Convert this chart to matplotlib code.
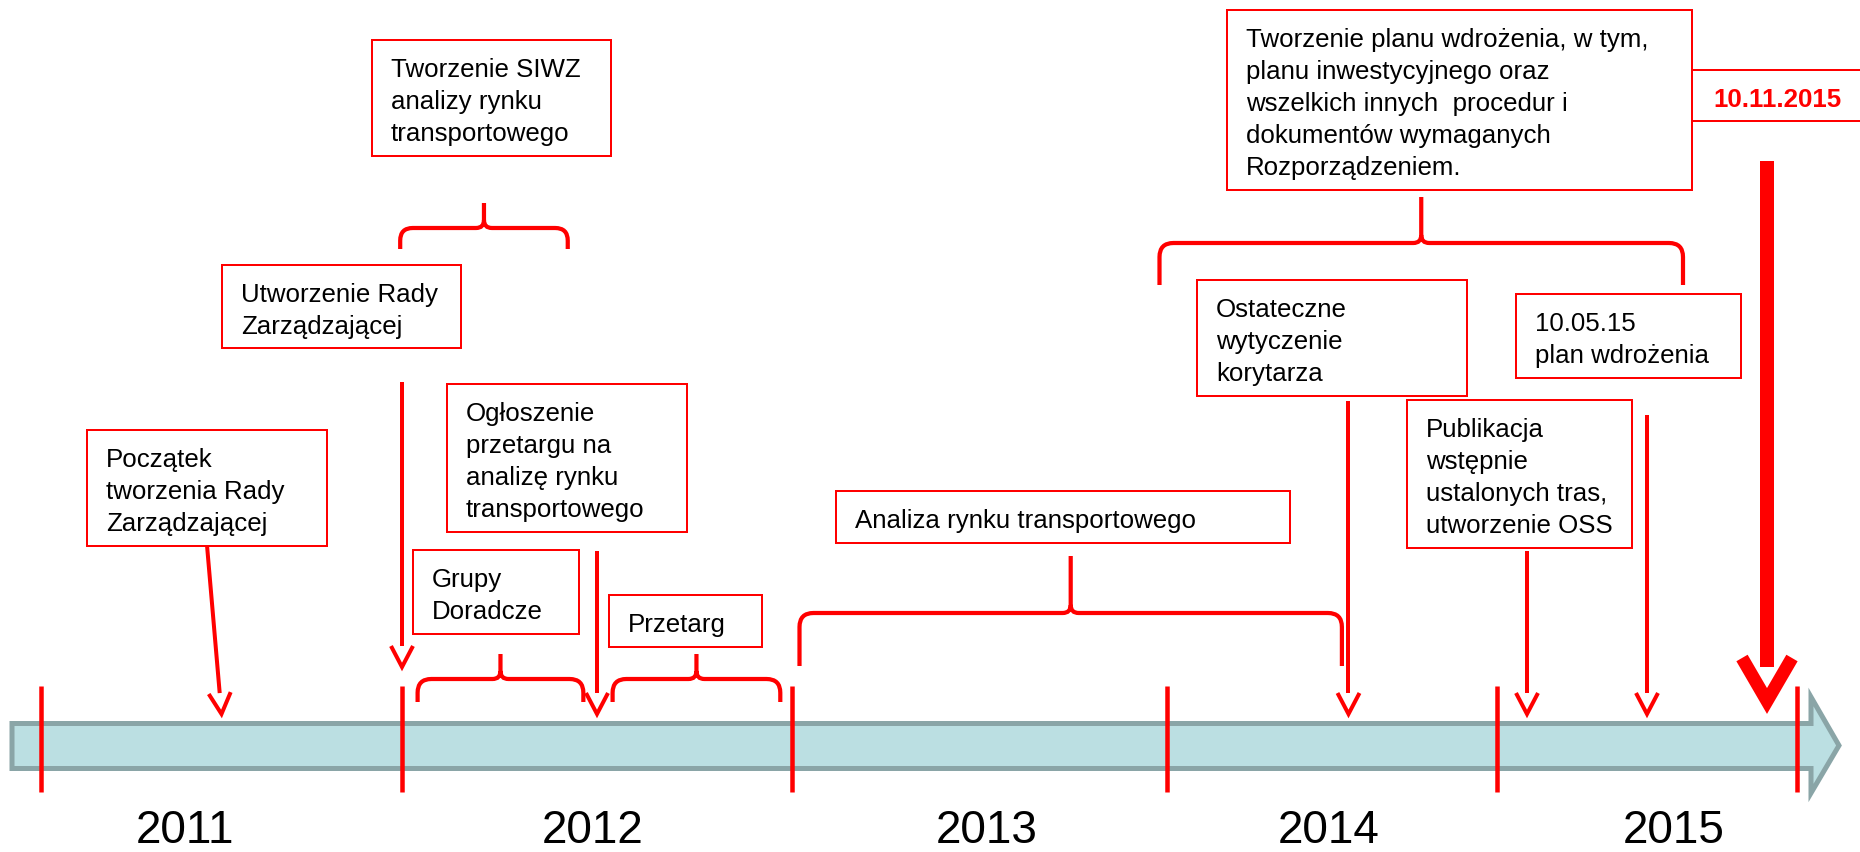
import numpy as np
import matplotlib
matplotlib.use("Agg")
import matplotlib.pyplot as plt
from matplotlib.path import Path
from matplotlib.patches import PathPatch, Polygon, Rectangle

plt.rcParams["font.family"] = ["Liberation Sans", "DejaVu Sans"]

W, H = 1860, 853
RED = "#FF0000"
PX = 0.72  # points per pixel at dpi=100

# ======================================================
# DATA
# ======================================================
# timeline scale: year boundaries -> pixel position of the red ticks
year_edges = [2011, 2012, 2013, 2014, 2015, 2016]
edge_px = [41, 402, 792, 1167, 1497, 1797]

year_labels = ["2011", "2012", "2013", "2014", "2015"]
year_label_pos = [2011.40, 2012.49, 2013.52, 2014.49, 2015.59]

# milestone arrows: (start date, tip date, start y)
arrow_from = [2011.46, 2012.0, 2012.5, 2014.55, 2015.10, 2015.50]
arrow_to = [2011.50, 2012.0, 2012.5, 2014.55, 2015.10, 2015.50]
arrow_top = [547, 383, 552, 402, 552, 416]
arrow_tip = [715, 668, 715, 715, 715, 715]

# braces: (start date, end date)
brace_start = [2011.995, 2012.04, 2012.54, 2013.02, 2013.98]
brace_end = [2012.425, 2012.465, 2012.97, 2014.53, 2015.62]
brace_levels = [(250, 229, 204), (703, 680, 655), (703, 680, 655),
                (667, 614, 557), (286, 244, 198)]

# text boxes
box_lines = [
    ["Początek", "tworzenia Rady", "Zarządzającej"],
    ["Utworzenie Rady", "Zarządzającej"],
    ["Tworzenie SIWZ", "analizy rynku", "transportowego"],
    ["Ogłoszenie", "przetargu na", "analizę rynku", "transportowego"],
    ["Grupy", "Doradcze"],
    ["Przetarg"],
    ["Analiza rynku transportowego"],
    ["Publikacja", "wstępnie", "ustalonych tras,", "utworzenie OSS"],
    ["Ostateczne", "wytyczenie", "korytarza"],
    ["10.05.15", "plan wdrożenia"],
    ["Tworzenie planu wdrożenia, w tym,", "planu inwestycyjnego oraz",
     "wszelkich innych  procedur i", "dokumentów wymaganych",
     "Rozporządzeniem."],
]
box_rects = [
    (87, 431, 327, 547),
    (222, 266, 461, 349),
    (372, 41, 611, 157),
    (447, 385, 687, 533),
    (413, 551, 579, 635),
    (609, 596, 762, 648),
    (836, 492, 1290, 544),
    (1407, 401, 1632, 549),
    (1197, 281, 1467, 397),
    (1516, 295, 1741, 379),
    (1227, 11, 1692, 191),
]

deadline_label = "10.11.2015"
deadline_date = 2015.90


def px(d):
    return np.interp(d, year_edges, edge_px)


# ======================================================
# FIGURE
# ======================================================
fig = plt.figure(figsize=(W / 100, H / 100), dpi=100)
ax = fig.add_axes([0, 0, 1, 1])
ax.set_xlim(0, W)
ax.set_ylim(H, 0)
ax.axis("off")

# timeline bar with arrow head
bar = Polygon([(12, 724.5), (1811, 724.5), (1811, 698), (1839, 746.5),
               (1811, 794), (1811, 769.5), (12, 769.5)],
              closed=True, fc="#BBDFE2", ec="#8AA5A7", lw=5 * PX,
              joinstyle="miter", zorder=1)
ax.add_patch(bar)

ax.vlines(edge_px, 687, 793, color=RED, lw=4.5 * PX, zorder=2)

for lab, pos in zip(year_labels, year_label_pos):
    ax.text(px(pos), 843, lab, fontsize=33, ha="center", va="baseline",
            color="black")


def down_arrow(x0, y0, x1, y1, lw=4 * PX, hw=11, hl=21):
    d = np.array([x1 - x0, y1 - y0], dtype=float)
    d /= np.hypot(*d)
    n = np.array([-d[1], d[0]])
    tip = np.array([x1, y1], dtype=float)
    base = tip - d * hl
    ax.plot([x0, base[0]], [y0, base[1]], color=RED, lw=lw,
            solid_capstyle="butt", zorder=3)
    p1 = base + n * hw
    p2 = base - n * hw
    ax.plot([p1[0], tip[0], p2[0]], [p1[1], tip[1], p2[1]], color=RED,
            lw=lw, solid_joinstyle="miter", solid_capstyle="butt", zorder=3)


for a, b, t, tp in zip(arrow_from, arrow_to, arrow_top, arrow_tip):
    down_arrow(px(a), t, px(b), tp)

# big deadline arrow
xd = px(deadline_date)
ax.plot([xd, xd], [162, 668], color=RED, lw=14 * PX,
        solid_capstyle="butt", zorder=3)
ax.plot([xd - 25, xd, xd + 25], [659, 702, 659], color=RED, lw=13 * PX,
        solid_joinstyle="miter", solid_capstyle="butt", zorder=3)


def brace(xa, xb, yb, yh, yt, lw=4.2 * PX):
    xc = (xa + xb) / 2
    r = min(14, (yb - yh) * 0.6)
    c = 8
    verts = [(xa, yb), (xa, yh + r), (xa, yh), (xa + r, yh),
             (xc - c, yh), (xc, yh), (xc, yh - c), (xc, yt),
             (xc, yh - c), (xc, yh), (xc + c, yh),
             (xb - r, yh), (xb, yh), (xb, yh + r), (xb, yb)]
    codes = [Path.MOVETO, Path.LINETO, Path.CURVE3, Path.CURVE3,
             Path.LINETO, Path.CURVE3, Path.CURVE3, Path.LINETO,
             Path.MOVETO, Path.CURVE3, Path.CURVE3,
             Path.LINETO, Path.CURVE3, Path.CURVE3, Path.LINETO]
    ax.add_patch(PathPatch(Path(verts, codes), fc="none", ec=RED, lw=lw,
                           capstyle="butt", zorder=3))


for s, e, (yb, yh, yt) in zip(brace_start, brace_end, brace_levels):
    brace(px(s), px(e), yb, yh, yt)

# boxes with text
for lines, (x0, y0, x1, y1) in zip(box_lines, box_rects):
    ax.add_patch(Rectangle((x0, y0), x1 - x0, y1 - y0, fc="white", ec=RED,
                           lw=2 * PX, zorder=4))
    for i, line in enumerate(lines):
        ax.text(x0 + 19, y0 + 36 + i * 32, line, fontsize=18.6,
                ha="left", va="baseline", color="black", zorder=5)

ax.add_patch(Rectangle((1692, 71), 200, 51, fc="white", ec=RED,
                       lw=2 * PX, zorder=4))
ax.text(1777, 107, deadline_label, fontsize=18.6, fontweight="bold",
        color=RED, ha="center", va="baseline", zorder=5)

fig.savefig("out.png", dpi=100)
